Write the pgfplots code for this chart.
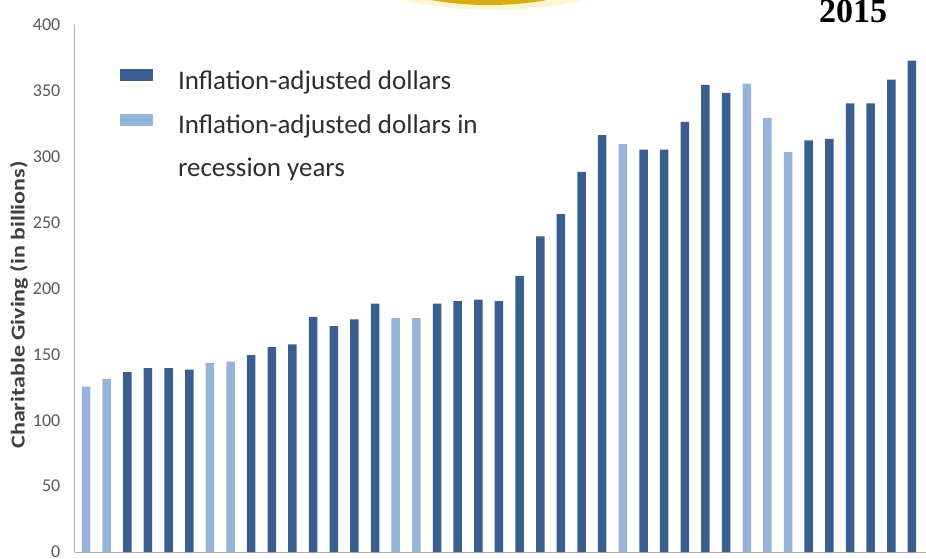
\documentclass[border=0pt]{standalone}
\usepackage{pgfplots}
\pgfplotsset{compat=1.18}
\usepackage{fontspec}
\setmainfont{Carlito}
\newfontfamily\libserif{Liberation Serif}
\definecolor{darkbar}{HTML}{3A5E8E}
\definecolor{lightbar}{HTML}{96B3D8}
\definecolor{axisgray}{HTML}{AFAFAF}
\definecolor{tickgray}{HTML}{595959}
\definecolor{labgray}{HTML}{404040}
\definecolor{legtext}{HTML}{2E2E2E}
\definecolor{gold}{HTML}{DCAA12}
\definecolor{glow}{HTML}{FFF6D0}
\begin{document}
\begin{tikzpicture}
\path[use as bounding box] (0pt,0pt) rectangle (926pt,558pt);
\begin{scope}
\clip (0pt,0pt) rectangle (926pt,558pt);
\fill[glow] (493pt,600pt) ellipse [x radius=150pt, y radius=52pt];
\fill[gold] (489pt,598pt) ellipse [x radius=126pt, y radius=45pt];
\node[anchor=base west, inner sep=0pt, font=\libserif\bfseries\fontsize{34}{36}\selectfont] at (819pt,535pt) {2015};
\end{scope}
\begin{axis}[
  at={(75pt,6pt)}, anchor=south west,
  scale only axis, width=851pt, height=527pt,
  xmin=1974.467, xmax=2015.68, ymin=0, ymax=400,
  ytick={0,50,...,400}, xtick=\empty,
  axis x line*=bottom, axis y line*=left,
  axis line style={draw=axisgray, line width=1pt, -},
  major tick length=0pt,
  /pgf/number format/assume math mode=true,
  yticklabel style={font=\fontsize{18}{20}\selectfont, text=tickgray, anchor=east, inner sep=0pt, xshift=-14.5pt},
  ylabel={\scalebox{1}[0.82]{\bfseries Charitable Giving (in billions)}},
  ylabel style={at={(axis description cs:-0.0658,0.4687)}, anchor=center, font=\fontsize{24}{26}\selectfont, text=labgray},
  ybar, bar width=8.5pt, bar shift=0pt,
  legend cell align=left,
  legend style={draw=none, fill=none, at={(axis description cs:0.0529,0.9165)}, anchor=north west,
    inner sep=0pt, outer sep=0pt, row sep=18.5pt,
    font=\fontsize{27}{30}\selectfont, text=legtext,
    nodes={inner sep=0pt, text height=18pt, text depth=6pt}},
  legend image code/.code={\fill[#1,draw=none] (0pt,2pt) rectangle (33pt,14pt); \path (58pt,0pt);},
]
\addplot[fill=darkbar, draw=none] coordinates {
(1977,136.5) (1978,139.5) (1979,139.5) (1980,138.5)
(1983,149.5) (1984,155.5) (1985,157.5)
(1986,178.5) (1987,171.5) (1988,176.5) (1989,188.5)
(1992,188.5) (1993,190.5) (1994,191.5) (1995,190.5) (1996,209.5) (1997,239.5) (1998,256.5) (1999,288.5) (2000,316.5)
(2002,305.5) (2003,305.5) (2004,326.5) (2005,354.5) (2006,348.5)
(2010,312.5) (2011,313.5) (2012,340.5) (2013,340.5) (2014,358.5) (2015,373)
};
\addlegendentry{Inflation-adjusted dollars}
\addplot[fill=lightbar, draw=none] coordinates {
(1975,125.5) (1976,131.5) (1981,143.5) (1982,144.5) (1990,177.5) (1991,177.5)
(2001,309.5) (2007,355.5) (2008,329.5) (2009,303.5)
};
\addlegendentry{Inflation-adjusted dollars in}
\addlegendimage{empty legend}
\addlegendentry{recession years}
\end{axis}
\end{tikzpicture}
\end{document}
